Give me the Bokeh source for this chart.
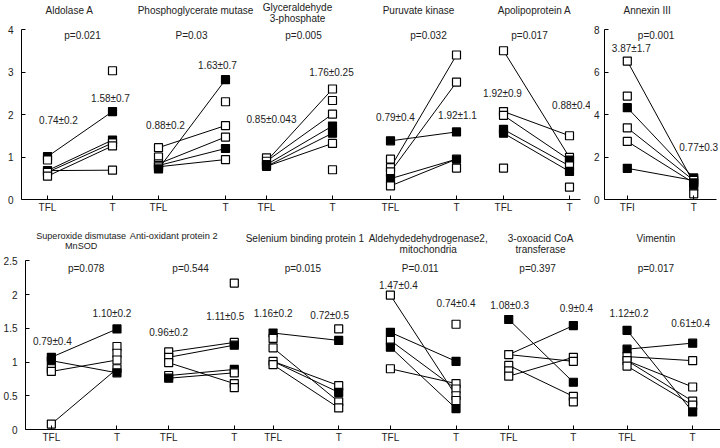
from bokeh.plotting import figure
from bokeh.layouts import column, row
from bokeh.models import Range1d, FixedTicker, ColumnDataSource, Label
from bokeh.embed import file_html
from bokeh.resources import INLINE
from bokeh.core.properties import value

FONT = "Liberation Sans"
TXT = "#222222"

# ---------------- data ----------------
# Top row (shared y axis 0-4)
aldo_tfl = [1.01, 0.93, 0.68, 0.64, 0.55]
aldo_tfl_filled = [1, 0, 1, 0, 0]
aldo_t = [3.03, 2.07, 1.40, 1.33, 1.26, 0.69]
aldo_t_filled = [0, 1, 1, 0, 0, 0]
aldo_links = [(0, 1), (2, 2), (3, 3), (4, 4), (2, 5)]

pgm_tfl = [1.22, 1.00, 0.84, 0.80, 0.77, 0.72]
pgm_tfl_filled = [0, 0, 0, 0, 0, 1]
pgm_t = [2.82, 2.30, 1.74, 1.47, 1.20, 0.94]
pgm_t_filled = [1, 0, 0, 0, 1, 0]
pgm_links = [(0, 2), (5, 0), (2, 3), (3, 4), (4, 5)]

gap_tfl = [0.98, 0.90, 0.82, 0.78]
gap_tfl_filled = [0, 0, 1, 1]
gap_t = [2.60, 2.33, 2.01, 1.73, 1.56, 1.32, 0.70]
gap_t_filled = [0, 0, 0, 1, 1, 0, 0]
gap_links = [(1, 0), (1, 2), (2, 3), (3, 4), (3, 5)]

pk_tfl = [1.38, 0.95, 0.75, 0.65, 0.49, 0.32]
pk_tfl_filled = [1, 0, 0, 0, 1, 0]
pk_t = [3.40, 2.76, 1.59, 0.95, 0.74]
pk_t_filled = [0, 0, 1, 1, 0]
pk_links = [(0, 2), (2, 0), (3, 1), (4, 3), (5, 3)]

apo_tfl = [3.50, 2.07, 1.98, 1.65, 1.56, 0.74]
apo_tfl_filled = [0, 0, 0, 1, 1, 0]
apo_t = [1.50, 0.99, 0.93, 0.79, 0.66, 0.29]
apo_t_filled = [0, 0, 1, 0, 1, 0]
apo_links = [(0, 1), (1, 0), (2, 2), (3, 3), (4, 4)]

# Annexin III (own y axis 0-8)
anx_tfl = [6.53, 4.88, 4.33, 3.38, 2.74, 1.47]
anx_tfl_filled = [0, 0, 1, 0, 0, 1]
anx_t = [1.02, 0.90, 0.78, 0.63, 0.27]
anx_t_filled = [1, 0, 1, 1, 0]
anx_links = [(0, 2), (2, 0), (3, 1), (4, 2), (5, 1)]

# Bottom row (shared y axis 0-2.5)
sod_tfl = [1.07, 1.02, 0.90, 0.86, 0.08]
sod_tfl_filled = [1, 1, 0, 0, 0]
sod_t = [1.49, 1.23, 1.13, 1.03, 0.90, 0.84]
sod_t_filled = [1, 0, 0, 0, 0, 1]
sod_links = [(0, 0), (1, 5), (3, 3), (4, 4)]

aop_tfl = [1.15, 1.07, 0.99, 0.80, 0.76]
aop_tfl_filled = [0, 0, 0, 0, 1]
aop_t = [2.17, 1.29, 1.25, 0.89, 0.84, 0.68, 0.62]
aop_t_filled = [0, 0, 1, 1, 0, 0, 0]
aop_links = [(0, 1), (1, 2), (2, 5), (3, 3), (4, 4)]

sbp_tfl = [1.43, 1.35, 1.21, 1.01, 0.96]
sbp_tfl_filled = [1, 0, 0, 0, 0]
sbp_t = [1.49, 1.32, 0.65, 0.55, 0.41, 0.32]
sbp_t_filled = [0, 1, 0, 1, 0, 0]
sbp_links = [(0, 1), (2, 4), (3, 2), (3, 3), (4, 5)]

ald_tfl = [1.99, 1.44, 1.32, 1.22, 0.90]
ald_tfl_filled = [0, 1, 0, 1, 0]
ald_t = [1.56, 1.01, 0.68, 0.60, 0.50, 0.43, 0.31]
ald_t_filled = [0, 1, 0, 0, 0, 0, 1]
ald_links = [(0, 4), (1, 1), (2, 3), (3, 6), (4, 2)]

oxo_tfl = [1.63, 1.11, 0.95, 0.87, 0.79]
oxo_tfl_filled = [1, 0, 0, 0, 0]
oxo_t = [1.54, 1.07, 1.01, 0.70, 0.49, 0.41]
oxo_t_filled = [1, 0, 0, 1, 0, 0]
oxo_links = [(0, 3), (1, 0), (1, 2), (2, 4), (4, 1)]

vim_tfl = [1.47, 1.19, 1.08, 1.02, 0.94]
vim_tfl_filled = [1, 1, 0, 0, 0]
vim_t = [1.28, 1.02, 0.63, 0.42, 0.36, 0.26]
vim_t_filled = [1, 0, 0, 0, 0, 1]
vim_links = [(0, 5), (1, 0), (2, 1), (3, 2), (3, 3), (4, 4)]

top_titles = ["Aldolase A", "Phosphoglycerate mutase", "Glyceraldehyde\n3-phosphate",
              "Puruvate kinase", "Apolipoprotein A"]
top_pvals = ["p=0.021", "P=0.03", "p=0.005", "p=0.032", "p=0.017"]
top_mean_tfl = ["0.74\u00b10.2", "0.88\u00b10.2", "0.85\u00b10.043", "0.79\u00b10.4", "1.92\u00b10.9"]
top_mean_t = ["1.58\u00b10.7", "1.63\u00b10.7", "1.76\u00b10.25", "1.92\u00b11.1", "0.88\u00b10.4"]

anx_title = "Annexin III"
anx_pval = "p=0.001"
anx_mean_tfl = "3.87\u00b11.7"
anx_mean_t = "0.77\u00b10.3"

bottom_titles = ["Superoxide dismutase\nMnSOD", "Anti-oxidant protein 2", "Selenium binding protein 1",
                 "Aldehydedehydrogenase2,\nmitochondria", "3-oxoacid CoA\ntransferase", "Vimentin"]
bottom_pvals = ["p=0.078", "p=0.544", "p=0.015", "P=0.011", "p=0.397", "p=0.017"]
bottom_mean_tfl = ["0.79\u00b10.4", "0.96\u00b10.2", "1.16\u00b10.2", "1.47\u00b10.4", "1.08\u00b10.3", "1.12\u00b10.2"]
bottom_mean_t = ["1.10\u00b10.2", "1.11\u00b10.5", "0.72\u00b10.5", "0.74\u00b10.4", "0.9\u00b10.4", "0.61\u00b10.4"]

top_y_ticks = [0, 1, 2, 3, 4]
anx_y_ticks = [0, 2, 4, 6, 8]
bottom_y_ticks = [0, 0.5, 1, 1.5, 2, 2.5]

# ---------------- layout (pixel positions on the page) ----------------
TOP_X_TFL = [47, 158, 266, 390, 503]
TOP_X_T = [112, 225, 332, 456, 569]
ANX_X_TFL, ANX_X_T = 626, 693
BOT_X_TFL = [47, 165, 270, 388, 507, 626]
BOT_X_T = [113, 231, 336, 454, 572, 692]

TOP_TITLE_POS = [(69, 4), (195, 4), (297, 1), (418, 4), (534, 4)]
TOP_TITLE_SIZE = ["10px", "10px", "10px", "10px", "10px"]
TOP_P_POS = [(82, 35), (191, 35), (303, 35), (428, 35), (529, 35)]
TOP_MTFL_POS = [(58, 120), (165, 125), (271, 119), (395, 117), (502, 93)]
TOP_MT_POS = [(110, 98), (217, 65), (331, 72), (457, 115), (571, 105)]
ANX_TITLE_POS, ANX_P_POS, ANX_MTFL_POS, ANX_MT_POS = (646, 4), (655, 35), (630, 48), (698, 147)
BOT_TITLE_POS = [(77, 230), (170, 230), (302, 232), (426, 232), (539, 232), (655, 232)]
BOT_TITLE_SIZE = ["9.1px", "9.3px", "10px", "10px", "10px", "10px"]
BOT_P_POS = [(82, 268), (187, 268), (300, 268), (418, 268), (536, 268), (655, 268)]
BOT_MTFL_POS = [(48, 341), (165, 332), (270, 313), (396, 285), (508, 305), (628, 313)]
BOT_MT_POS = [(108, 313), (222, 316), (327, 315), (454, 303), (575, 308), (690, 323)]

TOP_H, TOP_FRAME = 215, 199
BOT_H, BOT_FRAME = 233, 214
TOP_PX = 42.5      # pixels per unit, top row
ANX_PX = 21.2      # pixels per unit, Annexin III
BOT_PX = 67.48     # pixels per unit, bottom row
BOT_Y0 = 215


def top_v(py):
    return (TOP_FRAME - py) / TOP_PX


def anx_v(py):
    return (TOP_FRAME - py) / ANX_PX


def bot_v(py):
    return (BOT_Y0 + BOT_FRAME - py) / BOT_PX


def make_fig(width, height, xr, yr, left, bottom, xbounds, ybounds, yticks, xticks, xlabels, ystand):
    p = figure(width=width, height=height, x_range=Range1d(*xr), y_range=Range1d(*yr),
               output_backend="svg", toolbar_location=None,
               min_border_left=left, min_border_right=0, min_border_top=0, min_border_bottom=bottom)
    p.title.visible = False
    p.xgrid.visible = False
    p.ygrid.visible = False
    p.outline_line_color = None
    p.background_fill_color = "white"
    p.border_fill_color = "white"
    for ax in (p.xaxis[0], p.yaxis[0]):
        ax.axis_line_color = "black"
        ax.axis_line_width = 1
        ax.major_tick_line_color = "black"
        ax.major_tick_in = 4
        ax.major_tick_out = 0
        ax.minor_tick_in = 0
        ax.minor_tick_out = 0
        ax.major_label_text_font = FONT
        ax.major_label_text_font_size = "10px"
        ax.major_label_text_color = TXT
    p.yaxis.bounds = ybounds
    p.yaxis.ticker = FixedTicker(ticks=yticks)
    p.yaxis.major_label_standoff = ystand
    p.xaxis.bounds = xbounds
    p.xaxis.ticker = FixedTicker(ticks=xticks)
    p.xaxis.major_label_overrides = {k: v for k, v in zip(xticks, xlabels)}
    p.xaxis.major_label_standoff = 2
    return p


def draw_panel(p, xa, xb, tfl, tfl_f, t, t_f, links):
    x0 = [xa for _ in links]
    y0 = [tfl[i] for i, j in links]
    x1 = [xb for _ in links]
    y1 = [t[j] for i, j in links]
    p.segment(x0=x0, y0=y0, x1=x1, y1=y1, line_color="black", line_width=1)
    xs = [xa] * len(tfl) + [xb] * len(t)
    ys = list(tfl) + list(t)
    fills = ["black" if f else "white" for f in list(tfl_f) + list(t_f)]
    src = ColumnDataSource(dict(x=xs, y=ys, fill=fills))
    p.scatter("x", "y", source=src, marker="square", size=8, fill_color="fill",
              line_color="black", line_width=1.2)


def add_texts(p, xs, ys, texts, sizes=None, baseline="middle", line_height=1.2):
    if sizes is None:
        sizes = ["10px"] * len(texts)
    src = ColumnDataSource(dict(x=xs, y=ys, text=texts, size=sizes))
    p.text("x", "y", text="text", source=src, text_font=value(FONT), text_font_size="size",
           text_color=TXT, text_align="center", text_baseline=baseline, text_line_height=line_height)


# ---------------- top main figure ----------------
top_ticks = []
top_labels = []
for a, b in zip(TOP_X_TFL, TOP_X_T):
    top_ticks += [a, b]
    top_labels += ["TFL", "T"]
ptop = make_fig(590, TOP_H, (21, 590), (0, TOP_FRAME / TOP_PX), 21, TOP_H - TOP_FRAME, (21, 580),
                (0, 4), top_y_ticks, top_ticks, top_labels, 8)
top_data = [
    (aldo_tfl, aldo_tfl_filled, aldo_t, aldo_t_filled, aldo_links),
    (pgm_tfl, pgm_tfl_filled, pgm_t, pgm_t_filled, pgm_links),
    (gap_tfl, gap_tfl_filled, gap_t, gap_t_filled, gap_links),
    (pk_tfl, pk_tfl_filled, pk_t, pk_t_filled, pk_links),
    (apo_tfl, apo_tfl_filled, apo_t, apo_t_filled, apo_links),
]
for k, d in enumerate(top_data):
    draw_panel(ptop, TOP_X_TFL[k], TOP_X_T[k], *d)
add_texts(ptop, [x for x, y in TOP_TITLE_POS], [top_v(y) for x, y in TOP_TITLE_POS], top_titles,
          sizes=TOP_TITLE_SIZE, baseline="top", line_height=1.0)
add_texts(ptop, [x for x, y in TOP_P_POS], [top_v(y) for x, y in TOP_P_POS], top_pvals)
add_texts(ptop, [x for x, y in TOP_MTFL_POS], [top_v(y) for x, y in TOP_MTFL_POS], top_mean_tfl)
add_texts(ptop, [x for x, y in TOP_MT_POS], [top_v(y) for x, y in TOP_MT_POS], top_mean_t)
ptop.add_layout(Label(x=1, y=top_v(0.5), text="B", text_font=FONT, text_font_size="12px",
                      text_font_style="bold", text_color="black", text_align="left",
                      text_baseline="top"))

# ---------------- Annexin III ----------------
panx = make_fig(130, TOP_H, (603, 720), (0, TOP_FRAME / ANX_PX), 13, TOP_H - TOP_FRAME, (603, 716),
                (0, 8), anx_y_ticks, [ANX_X_TFL, ANX_X_T], ["TFI", "T"], 5)
draw_panel(panx, ANX_X_TFL, ANX_X_T, anx_tfl, anx_tfl_filled, anx_t, anx_t_filled, anx_links)
add_texts(panx, [ANX_TITLE_POS[0]], [anx_v(ANX_TITLE_POS[1])], [anx_title], baseline="top")
add_texts(panx, [ANX_P_POS[0]], [anx_v(ANX_P_POS[1])], [anx_pval])
add_texts(panx, [ANX_MTFL_POS[0]], [anx_v(ANX_MTFL_POS[1])], [anx_mean_tfl])
add_texts(panx, [ANX_MT_POS[0]], [anx_v(ANX_MT_POS[1])], [anx_mean_t])

# ---------------- bottom figure ----------------
bot_ticks = []
bot_labels = []
for a, b in zip(BOT_X_TFL, BOT_X_T):
    bot_ticks += [a, b]
    bot_labels += ["TFL", "T"]
pbot = make_fig(720, BOT_H, (21, 720), (0, BOT_FRAME / BOT_PX), 21, BOT_H - BOT_FRAME, (21, 720),
                (0, 2.5), bottom_y_ticks, bot_ticks, bot_labels, 8)
bot_data = [
    (sod_tfl, sod_tfl_filled, sod_t, sod_t_filled, sod_links),
    (aop_tfl, aop_tfl_filled, aop_t, aop_t_filled, aop_links),
    (sbp_tfl, sbp_tfl_filled, sbp_t, sbp_t_filled, sbp_links),
    (ald_tfl, ald_tfl_filled, ald_t, ald_t_filled, ald_links),
    (oxo_tfl, oxo_tfl_filled, oxo_t, oxo_t_filled, oxo_links),
    (vim_tfl, vim_tfl_filled, vim_t, vim_t_filled, vim_links),
]
for k, d in enumerate(bot_data):
    draw_panel(pbot, BOT_X_TFL[k], BOT_X_T[k], *d)
add_texts(pbot, [x for x, y in BOT_TITLE_POS], [bot_v(y) for x, y in BOT_TITLE_POS], bottom_titles,
          sizes=BOT_TITLE_SIZE, baseline="top", line_height=1.0)
add_texts(pbot, [x for x, y in BOT_P_POS], [bot_v(y) for x, y in BOT_P_POS], bottom_pvals)
add_texts(pbot, [x for x, y in BOT_MTFL_POS], [bot_v(y) for x, y in BOT_MTFL_POS], bottom_mean_tfl)
add_texts(pbot, [x for x, y in BOT_MT_POS], [bot_v(y) for x, y in BOT_MT_POS], bottom_mean_t)

layout = column(row(ptop, panx), pbot)
open("out.html", "w").write(file_html(layout, INLINE))
